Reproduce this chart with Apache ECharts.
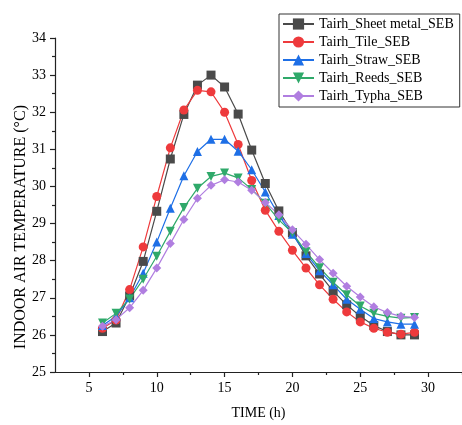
<!DOCTYPE html>
<html>
<head>
<meta charset="utf-8">
<script src="https://cdn.jsdelivr.net/npm/echarts@6/dist/echarts.min.js"></script>
<style>
  html, body { margin: 0; padding: 0; background: #fff; }
  #chart { width: 462px; height: 425px; }
</style>
</head>
<body>
<div id="chart"></div>
<script>
// hours of the day
const hours = [6, 7, 8, 9, 10, 11, 12, 13, 14, 15, 16, 17, 18, 19, 20, 21, 22, 23, 24, 25, 26, 27, 28, 29];

// indoor air temperature per roof type
const sheetMetal = [26.09, 26.32, 27.05, 27.98, 29.33, 30.74, 31.94, 32.73, 33.00, 32.68, 31.95, 30.98, 30.08, 29.34, 28.75, 28.13, 27.64, 27.18, 26.81, 26.50, 26.25, 26.09, 26.00, 26.00];
const tile = [26.18, 26.40, 27.22, 28.37, 29.73, 31.04, 32.06, 32.59, 32.55, 32.00, 31.13, 30.16, 29.36, 28.79, 28.28, 27.80, 27.35, 26.96, 26.62, 26.35, 26.18, 26.07, 26.02, 26.07];
const straw = [26.25, 26.50, 27.00, 27.66, 28.50, 29.41, 30.29, 30.94, 31.27, 31.27, 30.95, 30.45, 29.85, 29.22, 28.71, 28.19, 27.73, 27.35, 26.96, 26.69, 26.44, 26.35, 26.29, 26.29];
const reeds = [26.32, 26.58, 26.97, 27.50, 28.12, 28.79, 29.43, 29.95, 30.27, 30.36, 30.23, 29.92, 29.55, 29.10, 28.75, 28.24, 27.81, 27.42, 27.08, 26.78, 26.58, 26.50, 26.45, 26.47];
const typha = [26.23, 26.41, 26.73, 27.20, 27.80, 28.46, 29.11, 29.68, 30.03, 30.18, 30.12, 29.90, 29.57, 29.24, 28.83, 28.44, 28.03, 27.66, 27.31, 27.02, 26.76, 26.60, 26.50, 26.47];

const seriesNames = ['Tairh_Sheet metal_SEB', 'Tairh_Tile_SEB', 'Tairh_Straw_SEB', 'Tairh_Reeds_SEB', 'Tairh_Typha_SEB'];
const xMajorTicks = [5, 10, 15, 20, 25, 30];
const xMinorTicks = [7.5, 12.5, 17.5, 22.5, 27.5, 32.5];

const font = 'Liberation Serif';
const axisColor = '#222';

const pairs = (ys) => hours.map((h, i) => [h, ys[i]]);

const makeSeries = (name, ys, color, symbol, rotate) => ({
  name: name,
  type: 'line',
  data: pairs(ys),
  symbol: symbol,
  symbolSize: 9,
  symbolRotate: rotate || 0,
  showAllSymbol: true,
  lineStyle: { color: color, width: 1.2 },
  itemStyle: { color: color },
  animation: false
});

const chart = echarts.init(document.getElementById('chart'));
chart.setOption({
  backgroundColor: '#fff',
  grid: { left: 55, right: -5, top: 38, bottom: 48 },
  legend: {
    orient: 'vertical',
    left: 279,
    top: 14,
    padding: [3, 6, 4, 3],
    itemWidth: 31,
    itemHeight: 14,
    itemGap: 4,
    borderColor: '#333',
    borderWidth: 1,
    textStyle: { fontFamily: font, fontSize: 14, color: '#000' },
    data: seriesNames
  },
  graphic: [{
    type: 'text',
    left: 13,
    top: 105,
    rotation: Math.PI / 2,
    style: {
      text: 'INDOOR AIR TEMPERATURE (\u00B0C)',
      font: '16px "Liberation Serif"',
      fill: '#000'
    }
  }],
  xAxis: [{
    type: 'value',
    min: 2.5,
    max: 32.5,
    name: 'TIME (h)',
    nameLocation: 'middle',
    nameGap: 34,
    nameTextStyle: { fontFamily: font, fontSize: 14, color: '#000' },
    axisLine: { lineStyle: { color: axisColor, width: 1.2 } },
    axisTick: { customValues: xMajorTicks, length: 5, lineStyle: { color: axisColor, width: 1.2 } },
    axisLabel: { customValues: xMajorTicks, margin: 9, fontFamily: font, fontSize: 14, color: '#000' },
    splitLine: { show: false }
  }, {
    type: 'value',
    position: 'bottom',
    min: 2.5,
    max: 32.5,
    axisLine: { show: false },
    axisTick: { customValues: xMinorTicks, length: 3, lineStyle: { color: axisColor, width: 1.2 } },
    axisLabel: { show: false },
    splitLine: { show: false }
  }],
  yAxis: {
    type: 'value',
    min: 25,
    max: 34,
    interval: 1,
    axisLine: { show: true, lineStyle: { color: axisColor, width: 1.2 } },
    axisTick: { show: true, length: 5, lineStyle: { color: axisColor, width: 1.2 } },
    minorTick: { show: true, splitNumber: 2, length: 3, lineStyle: { color: axisColor, width: 1.2 } },
    axisLabel: { margin: 9, fontFamily: font, fontSize: 14, color: '#000' },
    splitLine: { show: false }
  },
  series: [
    makeSeries(seriesNames[0], sheetMetal, '#4a4a4a', 'rect'),
    makeSeries(seriesNames[1], tile, '#ee3a3c', 'circle'),
    makeSeries(seriesNames[2], straw, '#1e6fe6', 'triangle'),
    makeSeries(seriesNames[3], reeds, '#2fa96a', 'triangle', 180),
    makeSeries(seriesNames[4], typha, '#b07ee0', 'diamond')
  ]
});
</script>
</body>
</html>
